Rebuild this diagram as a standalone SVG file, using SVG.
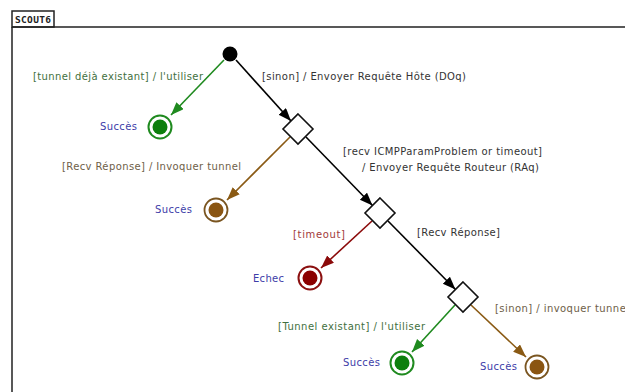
<svg xmlns="http://www.w3.org/2000/svg" width="625" height="392" viewBox="0 0 625 392">
  <style>
    .lbl { font-family: "DejaVu Sans", "Liberation Sans", sans-serif; font-size: 10px; }
    .state { fill: #3d3da8; }
    .k { fill: #333333; }
    .g { fill: #3f7040; }
    .b { fill: #6e6048; }
    .r { fill: #a23a3a; }
    .frame { fill: none; stroke: #222222; stroke-width: 1.5; }
    .edge { fill: none; stroke-width: 1.6; }
    .dec { fill: #ffffff; stroke: #111111; stroke-width: 1.6; }
  </style>
  <defs>
    <marker id="ah-black" markerUnits="userSpaceOnUse" markerWidth="15" markerHeight="11" refX="13" refY="5" orient="auto">
      <path d="M0,0 L13,5 L0,10 z" fill="#000000"/>
    </marker>
    <marker id="ah-green" markerUnits="userSpaceOnUse" markerWidth="15" markerHeight="11" refX="13" refY="5" orient="auto">
      <path d="M0,0 L13,5 L0,10 z" fill="#1f8a1f"/>
    </marker>
    <marker id="ah-brown" markerUnits="userSpaceOnUse" markerWidth="15" markerHeight="11" refX="13" refY="5" orient="auto">
      <path d="M0,0 L13,5 L0,10 z" fill="#8a5a14"/>
    </marker>
    <marker id="ah-red" markerUnits="userSpaceOnUse" markerWidth="15" markerHeight="11" refX="13" refY="5" orient="auto">
      <path d="M0,0 L13,5 L0,10 z" fill="#8b0a0a"/>
    </marker>
  </defs>

  <rect width="625" height="392" fill="#ffffff"/>

  <!-- frame with name tab -->
  <g id="frame">
    <rect class="frame" x="12" y="11" width="42" height="16" fill="#ffffff"/>
    <text x="15" y="23" font-family="DejaVu Sans Mono, Liberation Mono, monospace" font-size="9.5" font-weight="bold" fill="#222222" textLength="36">SCOUT6</text>
    <path class="frame" d="M12,27 H625 M12,27 V392"/>
  </g>

  <!-- connectors -->
  <g id="connectors">
    <line class="edge" x1="224" y1="60" x2="171" y2="115" stroke="#1f8a1f" marker-end="url(#ah-green)"/>
    <line class="edge" x1="236" y1="60" x2="291" y2="121" stroke="#000000" marker-end="url(#ah-black)"/>
    <line class="edge" x1="290" y1="137" x2="227" y2="200" stroke="#8a5a14" marker-end="url(#ah-brown)"/>
    <line class="edge" x1="306" y1="137" x2="372.5" y2="205.5" stroke="#000000" marker-end="url(#ah-black)"/>
    <line class="edge" x1="372" y1="221" x2="321" y2="268" stroke="#8b0a0a" marker-end="url(#ah-red)"/>
    <line class="edge" x1="388" y1="221" x2="455.5" y2="289.5" stroke="#000000" marker-end="url(#ah-black)"/>
    <line class="edge" x1="455" y1="305" x2="412" y2="352" stroke="#1f8a1f" marker-end="url(#ah-green)"/>
    <line class="edge" x1="471" y1="305" x2="526" y2="357" stroke="#8a5a14" marker-end="url(#ah-brown)"/>
  </g>

  <!-- transition labels -->
  <g id="labels" class="lbl">
    <text class="g" x="33" y="80" textLength="170">[tunnel déjà existant] / l'utiliser</text>
    <text class="k" x="262" y="80" textLength="204">[sinon] / Envoyer Requête Hôte (DOq)</text>
    <text class="k" x="343" y="155" textLength="199">[recv ICMPParamProblem or timeout]</text>
    <text class="k" x="362" y="171" textLength="177">/ Envoyer Requête Routeur (RAq)</text>
    <text class="b" x="62" y="170" textLength="179">[Recv Réponse] / Invoquer tunnel</text>
    <text class="r" x="293" y="238" textLength="52">[timeout]</text>
    <text class="k" x="417" y="236" textLength="83">[Recv Réponse]</text>
    <text class="b" x="495" y="312" textLength="134">[sinon] / invoquer tunnel</text>
    <text class="g" x="278" y="330" textLength="147">[Tunnel existant] / l'utiliser</text>
  </g>

  <!-- initial state -->
  <g id="start">
    <circle cx="230" cy="54" r="7.5" fill="#000000"/>
  </g>

  <!-- decisions -->
  <g id="decision1">
    <path class="dec" d="M298,114 L313,129 L298,144 L283,129 Z"/>
  </g>
  <g id="decision2">
    <path class="dec" d="M380,198 L395,213 L380,228 L365,213 Z"/>
  </g>
  <g id="decision3">
    <path class="dec" d="M463,282 L478,297 L463,312 L448,297 Z"/>
  </g>

  <!-- final states -->
  <g id="success1">
    <circle cx="160" cy="127" r="11.5" fill="#ffffff" stroke="#1f8a1f" stroke-width="2"/>
    <circle cx="160" cy="127" r="7.5" fill="#0d7f0d"/>
    <text class="lbl state" x="100" y="130" textLength="37">Succès</text>
  </g>
  <g id="success2">
    <circle cx="216" cy="210" r="11.5" fill="#ffffff" stroke="#7a5520" stroke-width="1.8"/>
    <circle cx="216" cy="210" r="7.5" fill="#8a5512"/>
    <text class="lbl state" x="155" y="213" textLength="37">Succès</text>
  </g>
  <g id="failure">
    <circle cx="310" cy="278" r="11.5" fill="#ffffff" stroke="#8b1010" stroke-width="2"/>
    <circle cx="310" cy="278" r="7.5" fill="#8b0000"/>
    <text class="lbl state" x="253" y="282" textLength="31">Echec</text>
  </g>
  <g id="success3">
    <circle cx="402" cy="363" r="11.5" fill="#ffffff" stroke="#1f8a1f" stroke-width="2"/>
    <circle cx="402" cy="363" r="7.5" fill="#0d7f0d"/>
    <text class="lbl state" x="343" y="366" textLength="37">Succès</text>
  </g>
  <g id="success4">
    <circle cx="537" cy="367" r="11.5" fill="#ffffff" stroke="#7a5520" stroke-width="1.8"/>
    <circle cx="537" cy="367" r="7.5" fill="#8a5512"/>
    <text class="lbl state" x="480" y="370" textLength="37">Succès</text>
  </g>
</svg>
